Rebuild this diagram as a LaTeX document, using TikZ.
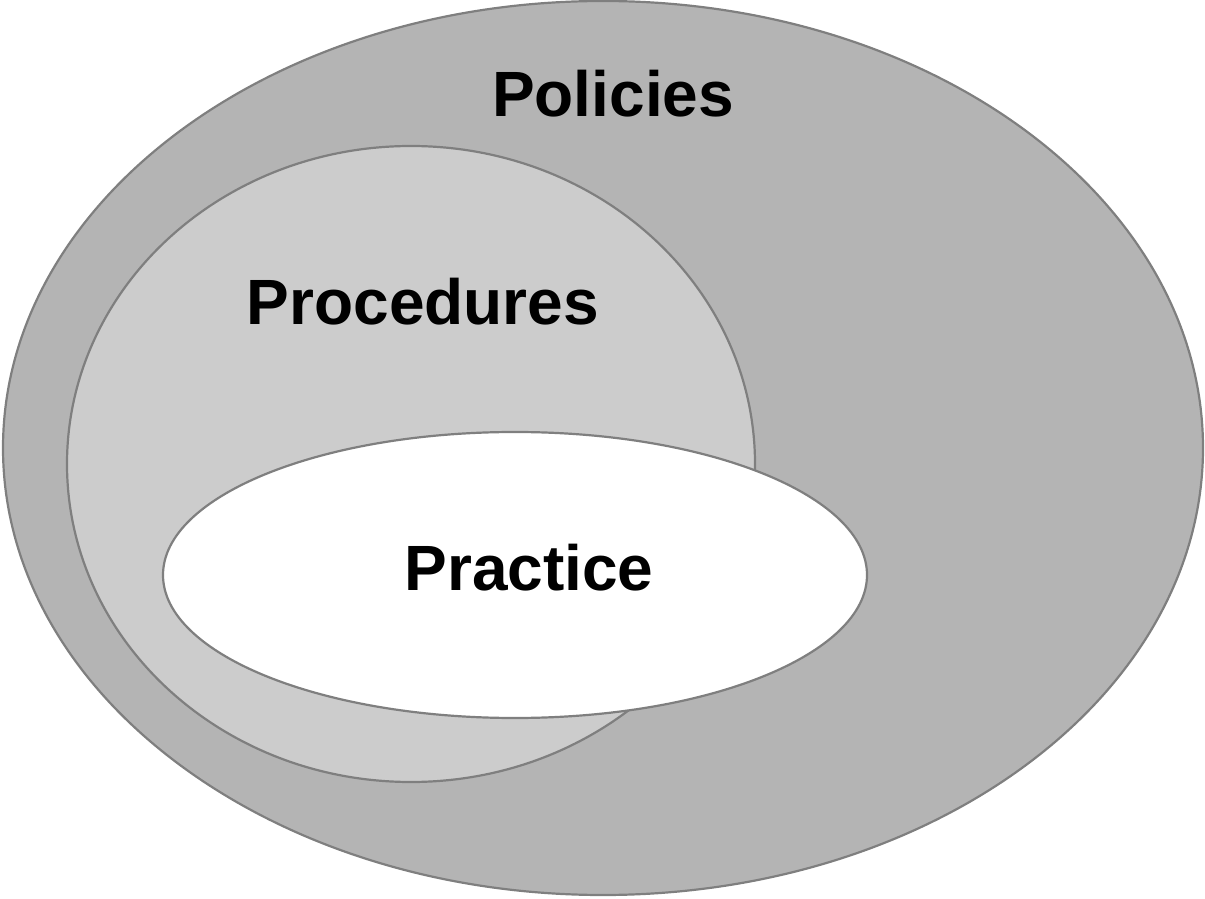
\documentclass[tikz,border=0pt]{standalone}
\usepackage{fontspec}
\setmainfont{Liberation Sans}
\definecolor{policyfill}{HTML}{B4B4B4}
\definecolor{procfill}{HTML}{CCCCCC}
\definecolor{rim}{HTML}{7F7F7F}
\begin{document}
\begin{tikzpicture}[x=1pt,y=1pt,
  rimline/.style={draw=rim,line width=2.2pt},
  lbl/.style={anchor=base,font=\fontsize{64}{70}\selectfont\bfseries,inner sep=0pt}]
\useasboundingbox (0,0) rectangle (1205,898);
\draw[rimline,fill=policyfill] (603,450) ellipse [x radius=600,y radius=447];
\draw[rimline,fill=procfill] (411,434) ellipse [x radius=344,y radius=318];
\draw[rimline,fill=white] (515,323) ellipse [x radius=352,y radius=143];
\node[lbl] (policies) at (613,781) {Policies};
\node[lbl] (procedures) at (423,573) {Procedures};
\node[lbl] (practice) at (529,308) {Practice};
\end{tikzpicture}
\end{document}
